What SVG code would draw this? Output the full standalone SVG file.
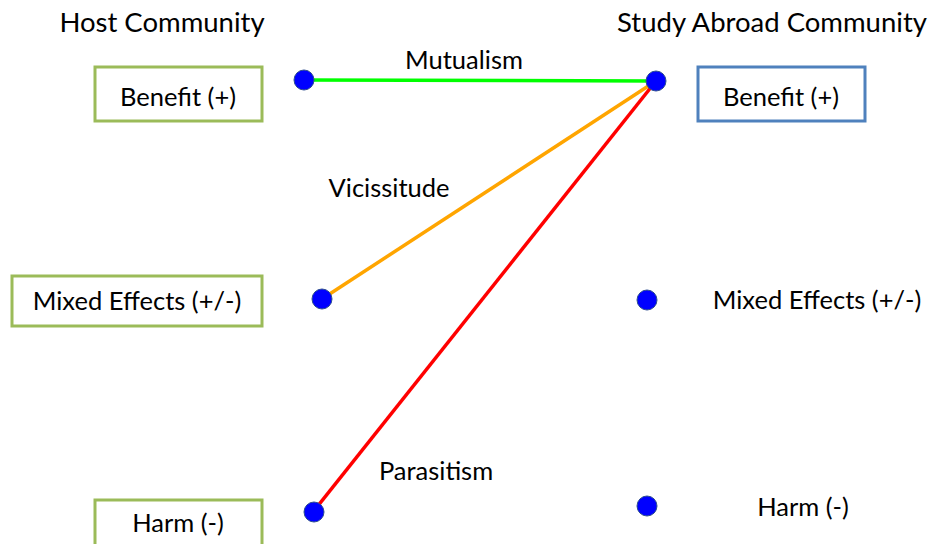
<svg xmlns="http://www.w3.org/2000/svg" width="935" height="544" viewBox="0 0 935 544">
<style>
text{font-family:Lato,"Open Sans","Liberation Sans",sans-serif;fill:#000}
.t{font-size:27.5px}
.l{font-size:25.5px}
.box{fill:#fff;stroke-width:3}
.g{stroke:#9BBB59}
.b{stroke:#4F81BD}
.dot{fill:#0000FF;stroke:#2F4F8F;stroke-width:1}
.c{fill:none;stroke-width:3.5}
</style>
<rect width="935" height="544" fill="#fff"/>
<text class="t" x="162" y="32" text-anchor="middle">Host Community</text>
<text class="t" x="772" y="32" text-anchor="middle">Study Abroad Community</text>
<g id="connectors">
<line class="c" x1="304" y1="80" x2="656" y2="81" stroke="#00FF00"/>
<line class="c" x1="322" y1="299" x2="656" y2="81" stroke="#FFA500"/>
<line class="c" x1="313" y1="512" x2="656" y2="81" stroke="#FF0000"/>
<text class="l" x="464" y="69" text-anchor="middle">Mutualism</text>
<text class="l" x="389" y="197" text-anchor="middle">Vicissitude</text>
<text class="l" x="436" y="480" text-anchor="middle">Parasitism</text>
</g>
<g id="host-benefit"><rect class="box g" x="95" y="67" width="167" height="54"/><text class="l" x="178" y="106" text-anchor="middle">Benefit (+)</text></g>
<g id="host-mixed"><rect class="box g" x="12" y="276" width="250" height="50"/><text class="l" x="137" y="310" text-anchor="middle">Mixed Effects (+/-)</text></g>
<g id="host-harm"><rect class="box g" x="95" y="500" width="167" height="50"/><text class="l" x="178" y="532" text-anchor="middle">Harm (-)</text></g>
<g id="abroad-benefit"><rect class="box b" x="698" y="67" width="167" height="54"/><text class="l" x="781" y="106" text-anchor="middle">Benefit (+)</text></g>
<g id="abroad-mixed"><text class="l" x="817" y="309" text-anchor="middle">Mixed Effects (+/-)</text></g>
<g id="abroad-harm"><text class="l" x="803" y="516" text-anchor="middle">Harm (-)</text></g>
<g id="dot-host-benefit"><circle class="dot" cx="304" cy="80" r="10"/></g>
<g id="dot-host-mixed"><circle class="dot" cx="322" cy="299" r="10"/></g>
<g id="dot-host-harm"><circle class="dot" cx="314" cy="512" r="10"/></g>
<g id="dot-abroad-benefit"><circle class="dot" cx="656" cy="81" r="10"/></g>
<g id="dot-abroad-mixed"><circle class="dot" cx="647" cy="300" r="10"/></g>
<g id="dot-abroad-harm"><circle class="dot" cx="647" cy="506" r="10"/></g>
</svg>
